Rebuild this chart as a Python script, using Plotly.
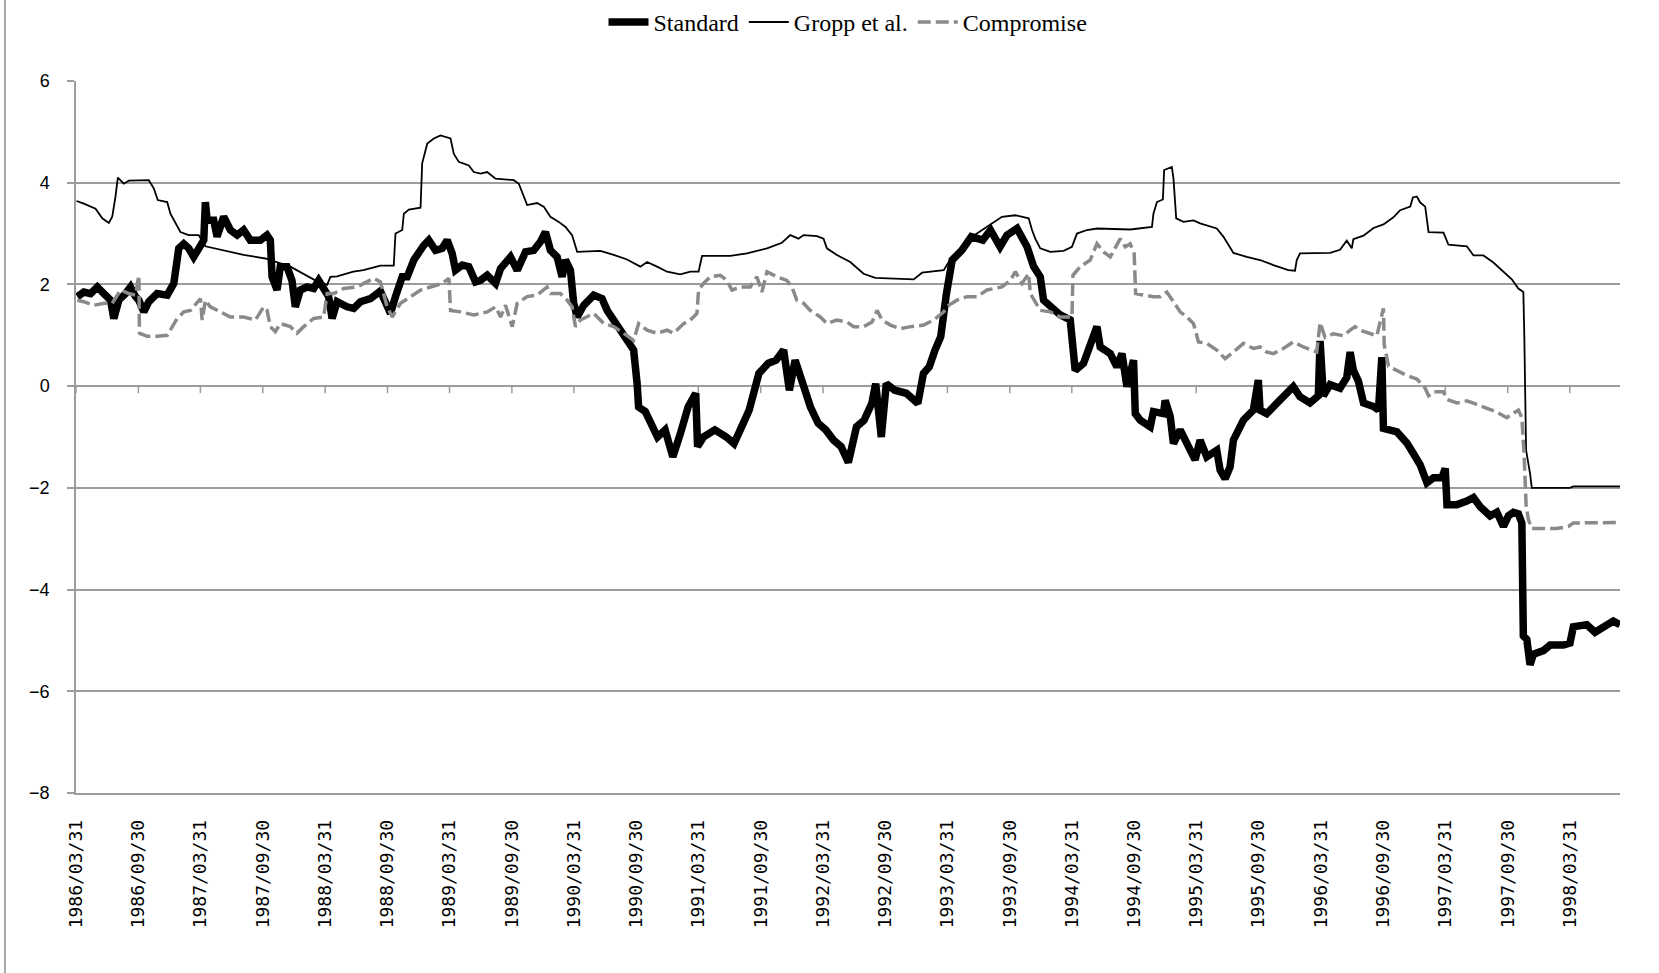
import pandas as pd
import plotly.graph_objects as go

# ---------------- data (x in decimal years) ----------------
tick_labels = ["1986/03/31", "1986/09/30", "1987/03/31", "1987/09/30", "1988/03/31", "1988/09/30",
               "1989/03/31", "1989/09/30", "1990/03/31", "1990/09/30", "1991/03/31", "1991/09/30",
               "1992/03/31", "1992/09/30", "1993/03/31", "1993/09/30", "1994/03/31", "1994/09/30",
               "1995/03/31", "1995/09/30", "1996/03/31", "1996/09/30", "1997/03/31", "1997/09/30",
               "1998/03/31"]
y_ticks = [6, 4, 2, 0, -2, -4, -6, -8]

standard_t = [1986.254, 1986.307, 1986.361, 1986.415, 1986.468, 1986.521, 1986.548, 1986.588, 1986.642, 1986.682,
              1986.722, 1986.749, 1986.789, 1986.829, 1986.896, 1986.977, 1987.030, 1987.070, 1987.110, 1987.150,
              1987.190, 1987.230, 1987.271, 1987.284, 1987.298, 1987.351, 1987.378, 1987.431, 1987.485, 1987.539,
              1987.591, 1987.645, 1987.726, 1987.779, 1987.806, 1987.820, 1987.860, 1987.886, 1987.940, 1987.980,
              1988.007, 1988.047, 1988.101, 1988.154, 1988.194, 1988.234, 1988.274, 1988.302, 1988.342, 1988.422,
              1988.475, 1988.529, 1988.609, 1988.689, 1988.729, 1988.770, 1988.810, 1988.864, 1988.904, 1988.957,
              1989.037, 1989.077, 1989.131, 1989.185, 1989.225, 1989.265, 1989.292, 1989.346, 1989.399, 1989.453,
              1989.493, 1989.547, 1989.614, 1989.654, 1989.734, 1989.788, 1989.855, 1989.921, 1989.975, 1990.015,
              1990.055, 1990.109, 1990.149, 1990.176, 1990.216, 1990.242, 1990.270, 1990.323, 1990.403, 1990.470,
              1990.511, 1990.564, 1990.644, 1990.724, 1990.752, 1990.764, 1990.818, 1990.869, 1990.916, 1990.977,
              1991.039, 1991.100, 1991.162, 1991.223, 1991.238, 1991.285, 1991.377, 1991.469, 1991.531, 1991.592,
              1991.653, 1991.731, 1991.807, 1991.869, 1991.930, 1991.976, 1992.022, 1992.084, 1992.145, 1992.207,
              1992.268, 1992.330, 1992.391, 1992.449, 1992.483, 1992.514, 1992.575, 1992.637, 1992.668, 1992.713,
              1992.753, 1992.821, 1992.913, 1993.006, 1993.051, 1993.098, 1993.144, 1993.190, 1993.236, 1993.282,
              1993.359, 1993.436, 1993.528, 1993.590, 1993.667, 1993.723, 1993.803, 1993.830, 1993.884, 1993.937,
              1993.990, 1994.017, 1994.071, 1994.151, 1994.231, 1994.271, 1994.338, 1994.392, 1994.446, 1994.472,
              1994.553, 1994.606, 1994.647, 1994.687, 1994.740, 1994.754, 1994.794, 1994.874, 1994.900, 1994.981,
              1994.994, 1995.035, 1995.061, 1995.115, 1995.169, 1995.235, 1995.275, 1995.329, 1995.409, 1995.436,
              1995.476, 1995.516, 1995.543, 1995.623, 1995.703, 1995.743, 1995.757, 1995.811, 1995.891, 1995.971,
              1996.024, 1996.078, 1996.158, 1996.225, 1996.239, 1996.265, 1996.319, 1996.399, 1996.453, 1996.480,
              1996.506, 1996.546, 1996.587, 1996.667, 1996.707, 1996.734, 1996.747, 1996.855, 1996.935, 1996.988,
              1997.042, 1997.096, 1997.149, 1997.216, 1997.243, 1997.257, 1997.337, 1997.417, 1997.470, 1997.524,
              1997.604, 1997.658, 1997.711, 1997.751, 1997.791, 1997.831, 1997.859, 1997.871, 1997.899, 1997.925,
              1997.952, 1998.032, 1998.086, 1998.193, 1998.246, 1998.273, 1998.381, 1998.447, 1998.514, 1998.594,
              1998.648]
standard_v = [1.76, 1.85, 1.82, 1.95, 1.82, 1.69, 1.33, 1.69, 1.82, 1.95,
              1.76, 1.69, 1.46, 1.66, 1.82, 1.79, 2.02, 2.71, 2.80, 2.71,
              2.54, 2.74, 2.87, 3.62, 3.26, 3.26, 2.94, 3.33, 3.07, 2.97,
              3.07, 2.87, 2.87, 2.97, 2.87, 2.15, 1.89, 2.35, 2.35, 2.08,
              1.56, 1.89, 1.95, 1.92, 2.08, 1.92, 1.76, 1.33, 1.66, 1.56,
              1.53, 1.66, 1.72, 1.87, 1.69, 1.43, 1.76, 2.15, 2.15, 2.48,
              2.77, 2.87, 2.67, 2.71, 2.87, 2.61, 2.28, 2.38, 2.35, 2.05,
              2.08, 2.18, 2.02, 2.31, 2.54, 2.28, 2.64, 2.67, 2.84, 3.03,
              2.67, 2.54, 2.15, 2.48, 2.28, 1.63, 1.36, 1.59, 1.79, 1.72,
              1.49, 1.30, 1.04, 0.71, 0.05, -0.41, -0.50, -0.80, -1.00, -0.86,
              -1.39, -0.93, -0.41, -0.14, -1.19, -1.00, -0.86, -1.00, -1.13, -0.80,
              -0.47, 0.25, 0.45, 0.51, 0.71, -0.08, 0.51, 0.05, -0.41, -0.73,
              -0.86, -1.06, -1.19, -1.50, -1.19, -0.80, -0.67, -0.34, 0.05, -1.00,
              0.05, -0.08, -0.14, -0.34, 0.25, 0.38, 0.71, 0.97, 1.82, 2.48,
              2.67, 2.94, 2.87, 3.07, 2.74, 2.97, 3.10, 3.00, 2.74, 2.35,
              2.15, 1.69, 1.56, 1.40, 1.30, 0.31, 0.45, 0.77, 1.17, 0.77,
              0.64, 0.38, 0.64, -0.01, 0.51, -0.54, -0.67, -0.80, -0.50, -0.54,
              -0.28, -0.60, -1.13, -0.86, -1.13, -1.45, -1.06, -1.39, -1.26, -1.65,
              -1.82, -1.59, -1.06, -0.67, -0.47, 0.12, -0.47, -0.54, -0.34, -0.14,
              -0.01, -0.21, -0.33, -0.19, 0.89, -0.19, 0.03, -0.04, 0.17, 0.67,
              0.31, 0.10, -0.33, -0.40, -0.47, 0.57, -0.83, -0.90, -1.12, -1.33,
              -1.55, -1.90, -1.80, -1.80, -1.62, -2.33, -2.33, -2.26, -2.19, -2.37,
              -2.55, -2.48, -2.76, -2.55, -2.48, -2.51, -2.69, -4.91, -4.98, -5.48,
              -5.27, -5.20, -5.09, -5.09, -5.05, -4.73, -4.69, -4.84, -4.73, -4.62,
              -4.69]

gropp_t = [1986.248, 1986.307, 1986.401, 1986.455, 1986.508, 1986.535, 1986.561, 1986.580, 1986.628, 1986.668,
           1986.829, 1986.869, 1986.901, 1986.977, 1987.003, 1987.083, 1987.150, 1987.230, 1987.284, 1987.431,
           1987.591, 1987.766, 1987.967, 1988.167, 1988.262, 1988.288, 1988.342, 1988.472, 1988.553, 1988.689,
           1988.796, 1988.810, 1988.864, 1988.877, 1988.917, 1989.011, 1989.024, 1989.065, 1989.118, 1989.171,
           1989.225, 1989.252, 1989.278, 1989.318, 1989.399, 1989.439, 1989.493, 1989.547, 1989.614, 1989.761,
           1989.801, 1989.841, 1989.868, 1989.948, 1990.001, 1990.055, 1990.122, 1990.176, 1990.229, 1990.270,
           1990.457, 1990.564, 1990.671, 1990.778, 1990.832, 1990.912, 1990.993, 1991.099, 1991.180, 1991.246,
           1991.274, 1991.501, 1991.635, 1991.796, 1991.916, 1991.983, 1992.049, 1992.090, 1992.197, 1992.250,
           1992.277, 1992.357, 1992.464, 1992.571, 1992.665, 1992.973, 1993.040, 1993.214, 1993.254, 1993.436,
           1993.682, 1993.790, 1993.897, 1993.924, 1993.950, 1993.990, 1994.071, 1994.178, 1994.245, 1994.285,
           1994.366, 1994.446, 1994.713, 1994.888, 1994.900, 1994.928, 1994.976, 1994.986, 1995.048, 1995.061,
           1995.083, 1995.141, 1995.222, 1995.275, 1995.409, 1995.462, 1995.516, 1995.543, 1995.650, 1995.757,
           1995.864, 1995.985, 1996.038, 1996.052, 1996.078, 1996.319, 1996.399, 1996.453, 1996.493, 1996.506,
           1996.587, 1996.667, 1996.747, 1996.827, 1996.881, 1996.962, 1996.983, 1997.015, 1997.042, 1997.082,
           1997.109, 1997.229, 1997.269, 1997.417, 1997.470, 1997.550, 1997.630, 1997.711, 1997.778, 1997.831,
           1997.871, 1997.879, 1997.893, 1997.925, 1997.939, 1998.246, 1998.273, 1998.648]
gropp_v = [3.64, 3.59, 3.49, 3.30, 3.21, 3.33, 3.72, 4.10, 3.98, 4.04,
           4.05, 3.89, 3.66, 3.62, 3.39, 3.03, 2.97, 2.97, 2.75, 2.67,
           2.58, 2.51, 2.35, 2.08, 1.99, 2.15, 2.16, 2.25, 2.28, 2.37,
           2.37, 3.00, 3.07, 3.39, 3.47, 3.51, 4.38, 4.77, 4.87, 4.93,
           4.90, 4.87, 4.57, 4.41, 4.34, 4.21, 4.18, 4.21, 4.08, 4.05,
           3.98, 3.75, 3.56, 3.60, 3.53, 3.33, 3.23, 3.13, 2.97, 2.64,
           2.66, 2.58, 2.49, 2.35, 2.44, 2.35, 2.25, 2.20, 2.25, 2.25,
           2.56, 2.56, 2.61, 2.71, 2.82, 2.97, 2.90, 2.97, 2.95, 2.90,
           2.71, 2.58, 2.44, 2.21, 2.13, 2.10, 2.23, 2.28, 2.44, 2.93,
           3.33, 3.36, 3.30, 3.07, 2.90, 2.71, 2.64, 2.66, 2.74, 3.00,
           3.07, 3.10, 3.08, 3.13, 3.39, 3.62, 3.67, 4.25, 4.31, 4.08,
           3.30, 3.23, 3.26, 3.20, 3.10, 2.94, 2.71, 2.62, 2.54, 2.48,
           2.38, 2.28, 2.27, 2.48, 2.61, 2.62, 2.68, 2.86, 2.71, 2.89,
           2.96, 3.11, 3.18, 3.32, 3.46, 3.53, 3.71, 3.73, 3.61, 3.53,
           3.03, 3.02, 2.78, 2.75, 2.57, 2.57, 2.43, 2.25, 2.10, 1.92,
           1.85, 0.96, -1.26, -1.72, -2.00, -2.00, -1.97, -1.97]

compromise_t = [1986.254, 1986.307, 1986.387, 1986.468, 1986.535, 1986.602, 1986.668, 1986.722, 1986.749, 1986.754,
                1986.816, 1986.896, 1986.977, 1987.017, 1987.057, 1987.110, 1987.164, 1987.244, 1987.258, 1987.284,
                1987.324, 1987.405, 1987.485, 1987.591, 1987.686, 1987.753, 1987.780, 1987.806, 1987.846, 1987.886,
                1987.967, 1988.020, 1988.074, 1988.154, 1988.234, 1988.262, 1988.315, 1988.395, 1988.503, 1988.556,
                1988.636, 1988.689, 1988.743, 1988.784, 1988.850, 1988.931, 1989.011, 1989.091, 1989.185, 1989.239,
                1989.252, 1989.332, 1989.439, 1989.547, 1989.614, 1989.654, 1989.694, 1989.748, 1989.788, 1989.868,
                1989.948, 1990.028, 1990.055, 1990.135, 1990.189, 1990.229, 1990.256, 1990.296, 1990.403, 1990.484,
                1990.564, 1990.644, 1990.724, 1990.764, 1990.832, 1990.912, 1990.993, 1991.046, 1991.126, 1991.180,
                1991.233, 1991.246, 1991.286, 1991.340, 1991.420, 1991.474, 1991.514, 1991.581, 1991.661, 1991.715,
                1991.755, 1991.796, 1991.876, 1991.956, 1991.996, 1992.036, 1992.090, 1992.143, 1992.224, 1992.277,
                1992.357, 1992.438, 1992.491, 1992.571, 1992.639, 1992.679, 1992.719, 1992.786, 1992.866, 1992.946,
                1993.053, 1993.133, 1993.214, 1993.254, 1993.321, 1993.401, 1993.482, 1993.562, 1993.682, 1993.749,
                1993.790, 1993.843, 1993.897, 1993.910, 1993.942, 1993.990, 1994.071, 1994.151, 1994.245, 1994.253,
                1994.311, 1994.392, 1994.446, 1994.499, 1994.553, 1994.606, 1994.633, 1994.673, 1994.713, 1994.745,
                1994.757, 1994.820, 1994.900, 1994.954, 1995.008, 1995.061, 1995.115, 1995.169, 1995.222, 1995.262,
                1995.329, 1995.409, 1995.476, 1995.543, 1995.623, 1995.703, 1995.757, 1995.811, 1995.864, 1995.944,
                1996.024, 1996.105, 1996.158, 1996.212, 1996.239, 1996.279, 1996.346, 1996.426, 1996.480, 1996.520,
                1996.560, 1996.640, 1996.694, 1996.747, 1996.753, 1996.788, 1996.855, 1996.935, 1997.015, 1997.082,
                1997.109, 1997.149, 1997.229, 1997.257, 1997.337, 1997.417, 1997.497, 1997.577, 1997.658, 1997.738,
                1997.791, 1997.831, 1997.859, 1997.877, 1997.893, 1997.911, 1997.939, 1998.140, 1998.233, 1998.273,
                1998.648]
compromise_v = [1.69, 1.66, 1.59, 1.63, 1.63, 1.89, 1.82, 1.79, 2.18, 1.04,
                0.98, 0.98, 1.00, 1.17, 1.33, 1.46, 1.49, 1.72, 1.30, 1.69,
                1.56, 1.46, 1.36, 1.36, 1.30, 1.56, 1.49, 1.17, 1.07, 1.23,
                1.17, 1.04, 1.17, 1.33, 1.36, 1.82, 1.82, 1.92, 1.95, 2.02,
                2.12, 2.05, 1.56, 1.36, 1.63, 1.76, 1.89, 1.95, 2.02, 2.12,
                1.49, 1.46, 1.40, 1.46, 1.56, 1.36, 1.59, 1.17, 1.63, 1.76,
                1.79, 1.95, 1.82, 1.82, 1.69, 1.56, 1.17, 1.30, 1.43, 1.23,
                1.17, 1.04, 0.90, 1.23, 1.10, 1.04, 1.10, 1.04, 1.23, 1.30,
                1.43, 1.89, 2.02, 2.15, 2.18, 2.08, 1.89, 1.95, 1.95, 2.15,
                1.85, 2.25, 2.15, 2.08, 1.95, 1.69, 1.63, 1.49, 1.36, 1.23,
                1.30, 1.26, 1.17, 1.17, 1.26, 1.49, 1.30, 1.20, 1.13, 1.17,
                1.20, 1.30, 1.46, 1.59, 1.69, 1.76, 1.76, 1.89, 1.95, 2.08,
                2.25, 2.02, 2.21, 1.82, 1.69, 1.49, 1.46, 1.36, 1.36, 2.18,
                2.35, 2.48, 2.80, 2.64, 2.54, 2.80, 2.90, 2.74, 2.80, 2.61,
                1.82, 1.79, 1.76, 1.76, 1.85, 1.66, 1.46, 1.36, 1.23, 0.87,
                0.84, 0.71, 0.54, 0.67, 0.84, 0.74, 0.77, 0.67, 0.64, 0.74,
                0.87, 0.77, 0.72, 0.67, 1.25, 0.96, 1.03, 0.99, 1.10, 1.17,
                1.10, 1.03, 0.99, 1.53, 0.82, 0.39, 0.31, 0.21, 0.14, -0.04,
                -0.19, -0.11, -0.11, -0.26, -0.33, -0.29, -0.36, -0.44, -0.51, -0.62,
                -0.54, -0.47, -0.62, -1.33, -2.33, -2.62, -2.80, -2.80, -2.76, -2.69,
                -2.68]


def to_dates(years):
    out = []
    for y in years:
        yr = int(y)
        start = pd.Timestamp(yr, 1, 1)
        end = pd.Timestamp(yr + 1, 1, 1)
        out.append(start + (end - start) * (y - yr))
    return out


tick_vals = pd.to_datetime(tick_labels, format="%Y/%m/%d")
std_x = to_dates(standard_t)
gro_x = to_dates(gropp_t)
com_x = to_dates(compromise_t)

GRID = "#9c9c9c"

fig = go.Figure()
fig.add_trace(go.Scatter(x=std_x, y=standard_v, mode="lines", name="Standard",
                         line=dict(color="black", width=7.5)))
fig.add_trace(go.Scatter(x=gro_x, y=gropp_v, mode="lines", name="Gropp et al.",
                         line=dict(color="black", width=1.8)))
fig.add_trace(go.Scatter(x=com_x, y=compromise_v, mode="lines", name="Compromise",
                         line=dict(color="#8a8a8a", width=3.5, dash="13px,5px")))

# small category tick marks on the zero line (axis crosses at 0)
for tv in tick_vals:
    fig.add_shape(type="line", xref="x", yref="y", x0=tv, x1=tv,
                  ysizemode="pixel", yanchor=0, y0=0, y1=-7,
                  line=dict(color=GRID, width=1.5), layer="below")

# chart-area left border
fig.add_shape(type="line", xref="paper", yref="paper", x0=-0.046, x1=-0.046,
              y0=-0.26, y1=1.12, line=dict(color="#8a8a8a", width=1.5))

fig.update_layout(
    width=1659, height=973,
    margin=dict(l=76, r=39, t=81, b=180, autoexpand=False),
    paper_bgcolor="white", plot_bgcolor="white",
    showlegend=True,
    legend=dict(orientation="h", x=0.5, xanchor="center",
                yref="container", y=0.977, yanchor="middle",
                font=dict(family="Liberation Serif", size=24, color="black"),
                itemwidth=40, bgcolor="rgba(0,0,0,0)"),
    xaxis=dict(type="date", range=[tick_vals[0], max(std_x)], automargin=False,
               tickmode="array", tickvals=tick_vals, ticktext=tick_labels,
               tickangle=-90, ticks="", showgrid=False, zeroline=False,
               showline=True, linecolor=GRID, linewidth=1.5,
               ticklabelstandoff=18,
               tickfont=dict(family="DejaVu Sans Mono", size=18, color="black")),
    yaxis=dict(range=[-8, 6], tickmode="array", tickvals=y_ticks, automargin=False,
               showgrid=True, gridcolor=GRID, gridwidth=1.5,
               zeroline=True, zerolinecolor=GRID, zerolinewidth=1.5,
               showline=True, linecolor=GRID, linewidth=1.5,
               ticks="outside", ticklen=7, tickcolor=GRID, tickwidth=1.5,
               ticklabelstandoff=14,
               tickfont=dict(family="Liberation Sans", size=18, color="black")),
)

fig.write_html("out.html", config={"displayModeBar": False},
               post_script="document.body.style.margin='0px';")
